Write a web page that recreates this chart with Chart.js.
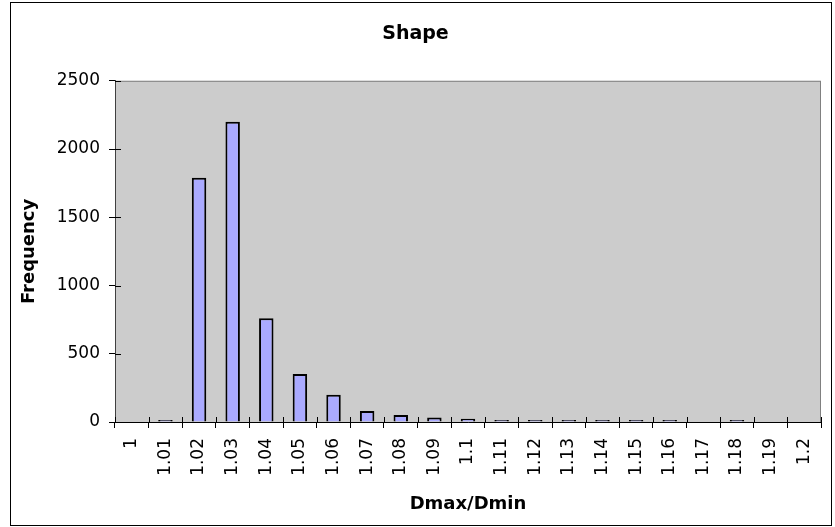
<!DOCTYPE html>
<html>
<head>
<meta charset="utf-8">
<script src="https://cdn.jsdelivr.net/npm/chart.js@4/dist/chart.umd.min.js"></script>
<style>
  body { margin: 0; background: #fff; }
  #wrap { width: 835px; height: 527px; }
</style>
</head>
<body>
<div id="wrap"><canvas id="shapeChart" width="835" height="527"></canvas></div>
<script>
const ratios = ['1', '1.01', '1.02', '1.03', '1.04', '1.05', '1.06', '1.07', '1.08', '1.09', '1.1',
                '1.11', '1.12', '1.13', '1.14', '1.15', '1.16', '1.17', '1.18', '1.19', '1.2'];
const frequency = [0, 3, 1790, 2200, 760, 352, 200, 81, 51, 33, 23,
                   11, 10, 8, 5, 2, 2, 0, 2, 0, 0];
const yTicks = [0, 500, 1000, 1500, 2000, 2500];

const fontFamily = "'DejaVu Sans', Verdana, sans-serif";

// empty bins are not drawn at all, like Excel does
const barData = frequency.map(v => v === 0 ? null : v);

// grey plot area, outer frame and the inner halves of the cross ticks
const excelLook = {
    id: 'excelLook',
    beforeDraw(chart) {
        const ctx = chart.ctx;
        const a = chart.chartArea;
        ctx.save();
        ctx.fillStyle = '#fff';
        ctx.fillRect(0, 0, chart.width, chart.height);
        ctx.strokeStyle = '#000';
        ctx.lineWidth = 1;
        ctx.strokeRect(10.5, 2.5, 821, 523);
        ctx.fillStyle = '#cccccc';
        ctx.fillRect(a.left, a.top, a.right - a.left, a.bottom - a.top);
        ctx.strokeStyle = '#808080';
        ctx.strokeRect(a.left + 0.5, a.top + 0.5, a.right - a.left - 1, a.bottom - a.top);
        ctx.restore();
    },
    afterDatasetsDraw(chart) {
        const ctx = chart.ctx;
        const a = chart.chartArea;
        const x = chart.scales.x;
        const y = chart.scales.y;
        ctx.save();
        ctx.strokeStyle = '#000';
        ctx.lineWidth = 1;
        ctx.beginPath();
        yTicks.forEach(v => {
            const py = Math.round(y.getPixelForValue(v)) + 0.5;
            ctx.moveTo(a.left, py);
            ctx.lineTo(a.left + 6, py);
        });
        for (let i = 0; i <= ratios.length; i++) {
            const px = Math.round(x.getPixelForValue(i - 0.5)) + 0.5;
            ctx.moveTo(px, a.bottom);
            ctx.lineTo(px, a.bottom - 5);
        }
        ctx.stroke();
        ctx.restore();
    }
};

new Chart(document.getElementById('shapeChart'), {
    type: 'bar',
    data: {
        labels: ratios,
        datasets: [{
            label: 'Frequency',
            data: barData,
            backgroundColor: '#aaaaff',
            borderColor: '#000',
            borderWidth: 2,
            minBarLength: 2,
            barPercentage: 0.43,
            categoryPercentage: 1
        }]
    },
    options: {
        responsive: false,
        animation: false,
        devicePixelRatio: 1,
        layout: { padding: { left: 10, right: 14, top: 0, bottom: 0 } },
        plugins: {
            legend: { display: false },
            tooltip: { enabled: false },
            title: {
                display: true,
                text: 'Shape',
                color: '#000',
                font: { family: fontFamily, size: 19, weight: 'bold' },
                padding: { top: 23, bottom: 35 }
            }
        },
        scales: {
            x: {
                offset: true,
                grid: {
                    display: true,
                    offset: true,
                    drawOnChartArea: false,
                    drawTicks: true,
                    tickLength: 6,
                    color: '#000'
                },
                border: { display: true, color: '#000', width: 1 },
                ticks: {
                    autoSkip: false,
                    minRotation: 90,
                    maxRotation: 90,
                    padding: 10,
                    color: '#000',
                    font: { family: fontFamily, size: 17 }
                },
                title: {
                    display: true,
                    text: 'Dmax/Dmin',
                    color: '#000',
                    font: { family: fontFamily, size: 18, weight: 'bold' },
                    padding: { top: 0, bottom: 12 }
                },
                afterFit(scale) { scale.height = 105; }
            },
            y: {
                min: 0,
                max: 2500,
                grid: {
                    display: true,
                    drawOnChartArea: false,
                    drawTicks: true,
                    tickLength: 6,
                    color: '#000'
                },
                border: { display: true, color: '#404040', width: 1 },
                ticks: {
                    stepSize: 500,
                    padding: 9,
                    color: '#000',
                    font: { family: fontFamily, size: 17 },
                    callback: v => String(v)
                },
                title: {
                    display: true,
                    text: 'Frequency',
                    color: '#000',
                    font: { family: fontFamily, size: 18, weight: 'bold' },
                    padding: { top: 9, bottom: 0 }
                },
                afterFit(scale) { scale.width = 105; }
            }
        }
    },
    plugins: [excelLook]
});
</script>
</body>
</html>
